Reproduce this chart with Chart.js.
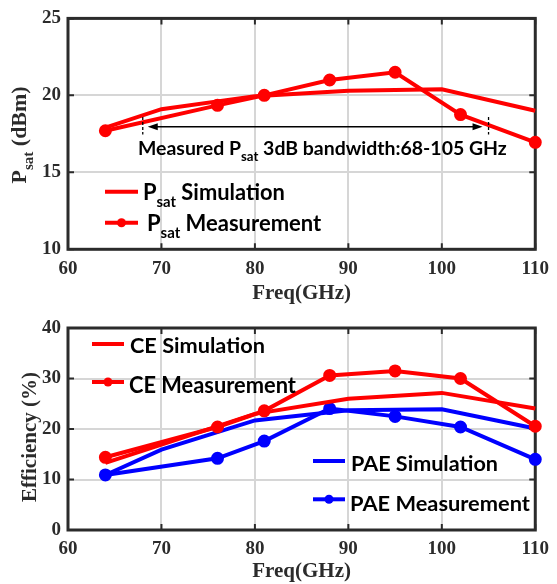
<!DOCTYPE html>
<html>
<head>
<meta charset="utf-8">
<script src="https://cdn.jsdelivr.net/npm/chart.js@4.4.1/dist/chart.umd.min.js"></script>
<style>
  html, body { margin: 0; background: #fff; }
  #wrap { position: relative; width: 557px; height: 584px; }
  canvas { position: absolute; left: 0; top: 0; }
</style>
</head>
<body>
<div id="wrap">
  <canvas id="psatChart" width="557" height="584"></canvas>
  <canvas id="effChart" width="557" height="584"></canvas>
</div>
<script>
// ---- data ----
const xTicks = [60, 70, 80, 90, 100, 110];
const psatTicks = [10, 15, 20, 25];
const effTicks = [0, 10, 20, 30, 40];

const freqSim = [64, 70, 80, 90, 100, 110];
const freqMeas = [64, 76, 81, 88, 95, 102, 110];

const psatSim = [17.9, 19.1, 19.95, 20.3, 20.4, 19.0];
const psatMeas = [17.7, 19.35, 20.0, 21.0, 21.5, 18.75, 16.95];

const ceSim = [13.3, 16.9, 23.0, 26.0, 27.15, 24.05];
const ceMeas = [14.4, 20.4, 23.6, 30.6, 31.5, 30.0, 20.55];
const paeSim = [10.9, 15.9, 21.7, 23.7, 23.9, 20.1];
const paeMeas = [10.9, 14.2, 17.6, 24.05, 22.5, 20.4, 14.0];

// measured 3dB bandwidth marker
const bwStart = 68;
const bwEnd = 105;
const bwLevel = 17.96;

const RED = '#ff0000';
const BLUE = '#0000ff';
const axisColor = '#2b2b2b';
const gridColor = '#d6d6d6';
const serif = "'Liberation Serif', 'Times New Roman', serif";
const sans = "Lato, 'Open Sans', sans-serif";

const pts = (xs, ys) => xs.map((x, i) => ({ x: x, y: ys[i] }));

// text with subscripts: parts = [[text, isSub], ...]
function richWidth(ctx, parts, size, weight, family) {
  let w = 0;
  parts.forEach(p => {
    ctx.font = weight + ' ' + (p[1] ? size * 0.68 : size) + 'px ' + family;
    w += ctx.measureText(p[0]).width;
  });
  return w;
}
function drawRich(ctx, x, y, parts, size, weight, family, align) {
  family = family || sans;
  ctx.textBaseline = 'alphabetic';
  ctx.textAlign = 'left';
  const w = richWidth(ctx, parts, size, weight, family);
  let cx = align === 'center' ? x - w / 2 : x;
  parts.forEach(p => {
    ctx.font = weight + ' ' + (p[1] ? size * 0.68 : size) + 'px ' + family;
    ctx.fillText(p[0], cx, p[1] ? y + size * 0.3 : y);
    cx += ctx.measureText(p[0]).width;
  });
}
// sans label sized so that it spans about the width seen in the figure
function drawFit(ctx, x, y, parts, width) {
  const w20 = richWidth(ctx, parts, 20, 'bold', sans);
  const size = Math.max(16, Math.min(22, 20 * width / w20));
  drawRich(ctx, x, y, parts, size, 'bold', sans);
}

function makeScales(yTicks, yMin, yMax, xAxisH) {
  return {
    x: {
      type: 'linear', min: 60, max: 110,
      afterBuildTicks: s => { s.ticks = xTicks.map(v => ({ value: v })); },
      afterFit: s => { s.height = xAxisH; },
      grid: { color: gridColor, lineWidth: 2, drawTicks: false },
      border: { display: false },
      ticks: { font: { family: serif, weight: 'bold', size: 19 }, color: axisColor, padding: 8, maxRotation: 0 }
    },
    y: {
      type: 'linear', min: yMin, max: yMax,
      afterBuildTicks: s => { s.ticks = yTicks.map(v => ({ value: v })); },
      afterFit: s => { s.width = 68; },
      grid: { color: gridColor, lineWidth: 2, drawTicks: false },
      border: { display: false },
      ticks: { font: { family: serif, weight: 'bold', size: 19 }, color: axisColor, padding: 7 }
    }
  };
}

// box + inward ticks on all four sides, MATLAB style
function drawFrame(chart) {
  const ctx = chart.ctx, a = chart.chartArea;
  const xs = chart.scales.x, ys = chart.scales.y;
  ctx.save();
  ctx.strokeStyle = axisColor;
  ctx.lineWidth = 2;
  xTicks.forEach(v => {
    const px = xs.getPixelForValue(v);
    ctx.beginPath();
    ctx.moveTo(px, a.bottom); ctx.lineTo(px, a.bottom - 6);
    ctx.moveTo(px, a.top); ctx.lineTo(px, a.top + 6);
    ctx.stroke();
  });
  ys.ticks.forEach(t => {
    const py = ys.getPixelForValue(t.value);
    ctx.beginPath();
    ctx.moveTo(a.left, py); ctx.lineTo(a.left + 6, py);
    ctx.moveTo(a.right, py); ctx.lineTo(a.right - 6, py);
    ctx.stroke();
  });
  ctx.lineWidth = 3;
  ctx.strokeRect(a.left, a.top, a.right - a.left, a.bottom - a.top);
  ctx.restore();
}

function legendSample(ctx, x1, x2, y, color, marker) {
  ctx.save();
  ctx.strokeStyle = color;
  ctx.lineWidth = 4;
  ctx.beginPath(); ctx.moveTo(x1, y); ctx.lineTo(x2, y); ctx.stroke();
  if (marker) {
    ctx.fillStyle = color;
    ctx.beginPath(); ctx.arc((x1 + x2) / 2, y, 4.5, 0, Math.PI * 2); ctx.fill();
  }
  ctx.restore();
}

function xTitle(ctx, x, y) {
  ctx.save();
  ctx.fillStyle = axisColor;
  ctx.font = 'bold 21px ' + serif;
  ctx.textAlign = 'center';
  ctx.textBaseline = 'middle';
  ctx.fillText('Freq(GHz)', x, y);
  ctx.restore();
}

function lineSet(label, xs, ys, color, marker) {
  return {
    label: label,
    data: pts(xs, ys),
    borderColor: color,
    backgroundColor: color,
    borderWidth: 4,
    pointRadius: marker ? 4.5 : 0,
    pointHoverRadius: marker ? 4.5 : 0,
    pointBackgroundColor: color,
    pointBorderColor: color,
    tension: 0,
    clip: false
  };
}

const psatPlugin = {
  id: 'psatDeco',
  beforeDatasetsDraw: chart => drawFrame(chart),
  afterDraw: chart => {
    const ctx = chart.ctx;
    const xs = chart.scales.x, ys = chart.scales.y;
    const a = chart.chartArea;

    // bandwidth marker
    ctx.save();
    ctx.strokeStyle = '#000';
    ctx.fillStyle = '#000';
    ctx.lineWidth = 1.3;
    ctx.setLineDash([3, 2]);
    [bwStart, bwEnd].forEach(f => {
      const px = xs.getPixelForValue(f);
      ctx.beginPath();
      ctx.moveTo(px, ys.getPixelForValue(18.6));
      ctx.lineTo(px, ys.getPixelForValue(17.45));
      ctx.stroke();
    });
    ctx.setLineDash([]);
    const ay = ys.getPixelForValue(bwLevel);
    const ax1 = xs.getPixelForValue(bwStart) + 5;
    const ax2 = xs.getPixelForValue(bwEnd) - 6;
    ctx.lineWidth = 1.5;
    ctx.beginPath(); ctx.moveTo(ax1 + 6, ay); ctx.lineTo(ax2 - 6, ay); ctx.stroke();
    ctx.beginPath(); ctx.moveTo(ax1, ay); ctx.lineTo(ax1 + 10, ay - 3.5); ctx.lineTo(ax1 + 10, ay + 3.5); ctx.closePath(); ctx.fill();
    ctx.beginPath(); ctx.moveTo(ax2, ay); ctx.lineTo(ax2 - 10, ay - 3.5); ctx.lineTo(ax2 - 10, ay + 3.5); ctx.closePath(); ctx.fill();
    drawFit(ctx, 138, 155, [['Measured P', false], ['sat', true], [' 3dB bandwidth:68-105 GHz', false]], 369);

    // legend
    const ds = chart.data.datasets;
    legendSample(ctx, 105, 138, 191.7, ds[0].borderColor, false);
    legendSample(ctx, 105, 138, 222.7, ds[1].borderColor, true);
    ctx.fillStyle = '#000';
    drawFit(ctx, 143, 200, [['P', false], ['sat', true], [' Simulation', false]], 142);
    drawFit(ctx, 147, 231, [['P', false], ['sat', true], [' Measurement', false]], 175);

    // axis titles
    ctx.fillStyle = axisColor;
    ctx.translate(26, (a.top + a.bottom) / 2 + 1);
    ctx.rotate(-Math.PI / 2);
    drawRich(ctx, 0, 0, [['P', false], ['sat', true], [' (dBm)', false]], 22, 'bold', serif, 'center');
    ctx.restore();
    xTitle(ctx, (a.left + a.right) / 2, 294);
  }
};

const effPlugin = {
  id: 'effDeco',
  beforeDatasetsDraw: chart => drawFrame(chart),
  afterDraw: chart => {
    const ctx = chart.ctx;
    const a = chart.chartArea;
    const ds = chart.data.datasets;
    ctx.save();
    legendSample(ctx, 92, 124, 344, ds[0].borderColor, false);
    legendSample(ctx, 92, 124, 382, ds[1].borderColor, true);
    legendSample(ctx, 313, 345, 461, ds[2].borderColor, false);
    legendSample(ctx, 313, 345, 499.3, ds[3].borderColor, true);
    ctx.fillStyle = '#000';
    drawFit(ctx, 130, 353, [['CE Simulation', false]], 135);
    drawFit(ctx, 129, 393, [['CE Measurement', false]], 167);
    drawFit(ctx, 351, 471, [['PAE Simulation', false]], 147);
    drawFit(ctx, 350, 510.5, [['PAE Measurement', false]], 180);

    ctx.fillStyle = axisColor;
    ctx.translate(36, 437);
    ctx.rotate(-Math.PI / 2);
    drawRich(ctx, 0, 0, [['Efficiency (%)', false]], 21, 'bold', serif, 'center');
    ctx.restore();
    xTitle(ctx, (a.left + a.right) / 2, 572);
  }
};

const baseOptions = (scales, pad) => ({
  responsive: false,
  animation: false,
  devicePixelRatio: 1,
  layout: { padding: pad },
  plugins: { legend: { display: false }, tooltip: { enabled: false } },
  scales: scales
});

new Chart(document.getElementById('psatChart'), {
  type: 'line',
  data: {
    datasets: [
      lineSet('Psat Simulation', freqSim, psatSim, RED, false),
      lineSet('Psat Measurement', freqMeas, psatMeas, RED, true)
    ]
  },
  options: baseOptions(makeScales(psatTicks, 10, 25, 40), { left: 0, right: 14.3, top: 15, bottom: 584 - 249.3 - 40 }),
  plugins: [psatPlugin]
});

new Chart(document.getElementById('effChart'), {
  type: 'line',
  data: {
    datasets: [
      lineSet('CE Simulation', freqSim, ceSim, RED, false),
      lineSet('CE Measurement', freqMeas, ceMeas, RED, true),
      lineSet('PAE Simulation', freqSim, paeSim, BLUE, false),
      lineSet('PAE Measurement', freqMeas, paeMeas, BLUE, true)
    ]
  },
  options: baseOptions(makeScales(effTicks, 0, 40, 40), { left: 0, right: 14.3, top: 328, bottom: 584 - 530 - 40 }),
  plugins: [effPlugin]
});
</script>
</body>
</html>
